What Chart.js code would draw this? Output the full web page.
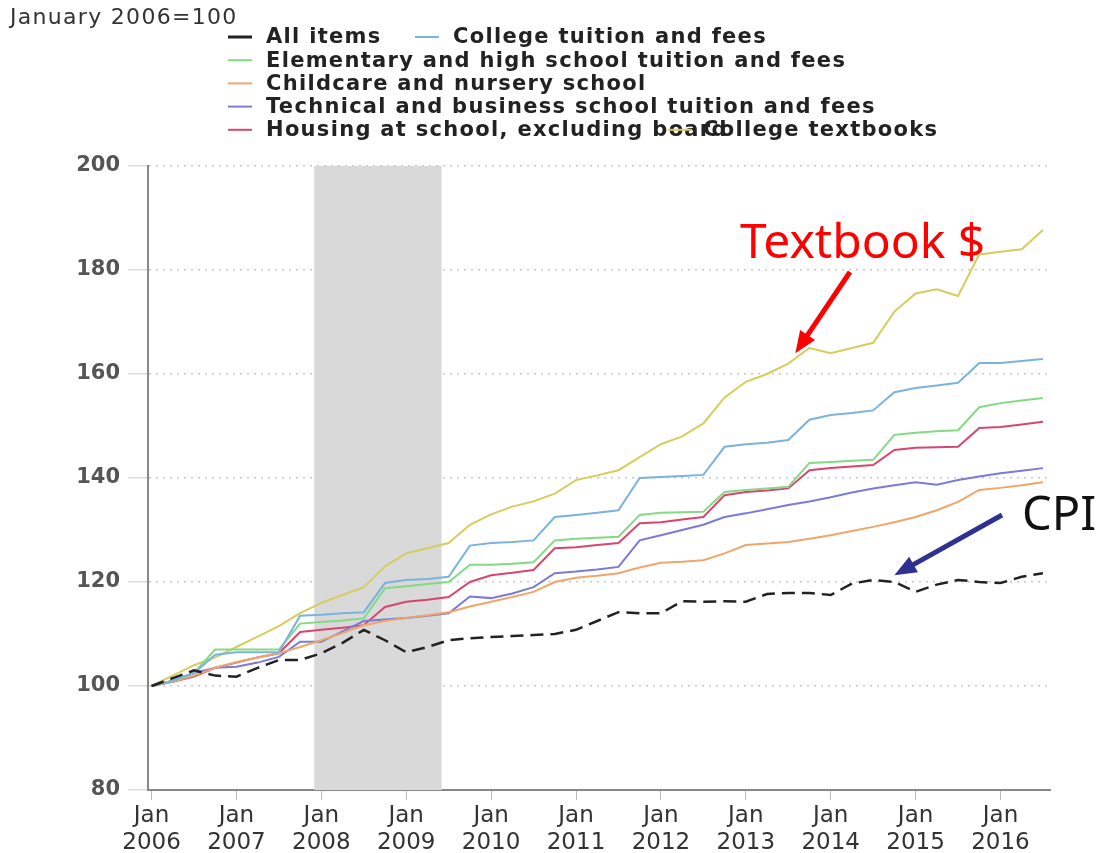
<!DOCTYPE html>
<html>
<head>
<meta charset="utf-8">
<script src="https://cdn.jsdelivr.net/npm/chart.js@4/dist/chart.umd.min.js"></script>
<style>
  html, body { margin: 0; padding: 0; background: #fff; }
  #wrap { width: 1101px; height: 853px; position: relative; }
</style>
</head>
<body>
<div id="wrap"><canvas id="cpiChart" width="1101" height="853"></canvas></div>
<script>
// months since Jan 2006 (quarterly readings)
const months = [0, 3, 6, 9, 12, 15, 18, 21, 24, 27, 30, 33, 36, 39, 42, 45, 48, 51, 54, 57,
  60, 63, 66, 69, 72, 75, 78, 81, 84, 87, 90, 93, 96, 99, 102, 105, 108, 111, 114, 117,
  120, 123, 126];
const yearTicks = [0, 12, 24, 36, 48, 60, 72, 84, 96, 108, 120];
const yearLabels = ["2006", "2007", "2008", "2009", "2010", "2011", "2012", "2013", "2014", "2015", "2016"];
const yTicks = [80, 100, 120, 140, 160, 180, 200];

const allItems = [100, 101.5, 103, 102, 101.8, 103.5, 105, 105, 106.3, 108.3, 110.8, 108.8,
  106.5, 107.5, 108.8, 109.2, 109.4, 109.6, 109.8, 110, 110.8, 112.5, 114.2, 114,
  114, 116.3, 116.2, 116.3, 116.2, 117.7, 117.9, 117.9, 117.5, 119.7, 120.4, 120,
  118.1, 119.5, 120.4, 120, 119.8, 121, 121.7];
const collegeTuition = [100, 101, 102.5, 106, 106.5, 106.5, 106.5, 113.5, 113.7, 114, 114.2, 119.8,
  120.4, 120.6, 121, 127, 127.5, 127.7, 128, 132.5, 132.9, 133.3, 133.8, 140,
  140.2, 140.4, 140.6, 146, 146.5, 146.8, 147.3, 151.2, 152.1, 152.5, 153, 156.5,
  157.3, 157.8, 158.3, 162.1, 162.1, 162.5, 162.9];
const elementaryHigh = [100, 101, 102.5, 107, 107, 107, 107, 112, 112.3, 112.6, 113, 118.8,
  119.2, 119.6, 120, 123.3, 123.3, 123.5, 123.8, 128, 128.3, 128.5, 128.7, 132.9,
  133.3, 133.4, 133.5, 137.3, 137.7, 138, 138.3, 142.9, 143.1, 143.3, 143.5, 148.3,
  148.7, 149, 149.2, 153.6, 154.4, 154.9, 155.4];
const childcare = [100, 100.8, 102, 103.5, 104.6, 105.5, 106.3, 107.5, 108.8, 110.2, 111.7, 112.5,
  113.1, 113.6, 114.2, 115.3, 116.2, 117.1, 118.1, 120, 120.8, 121.2, 121.7, 122.8,
  123.7, 123.9, 124.2, 125.5, 127.1, 127.4, 127.7, 128.3, 129, 129.8, 130.6, 131.5,
  132.5, 133.8, 135.4, 137.7, 138.1, 138.6, 139.2];
const technical = [100, 101, 102.5, 103.5, 103.7, 104.5, 105.6, 108.5, 108.5, 110.5, 112.5, 112.8,
  113.1, 113.5, 114, 117.2, 116.9, 117.8, 119, 121.7, 122, 122.4, 122.9, 128,
  129, 130, 131, 132.5, 133.2, 134, 134.8, 135.5, 136.3, 137.2, 138, 138.6,
  139.2, 138.7, 139.6, 140.3, 140.9, 141.4, 141.9];
const housing = [100, 100.8, 101.8, 103.5, 104.5, 105.5, 106.3, 110.4, 110.8, 111.2, 111.7, 115.2,
  116.2, 116.6, 117.1, 120, 121.3, 121.8, 122.3, 126.5, 126.7, 127.1, 127.5, 131.3,
  131.5, 132, 132.5, 136.7, 137.3, 137.6, 138, 141.5, 141.9, 142.2, 142.5, 145.4,
  145.8, 145.9, 146, 149.6, 149.8, 150.3, 150.8];
const textbooks = [100, 102, 104, 105.5, 107.5, 109.5, 111.5, 114, 116, 117.5, 119, 123,
  125.5, 126.5, 127.5, 131, 133, 134.5, 135.5, 137, 139.6, 140.5, 141.5, 144,
  146.5, 148, 150.5, 155.5, 158.5, 160, 162, 165, 164, 165, 166, 172,
  175.5, 176.3, 175, 183, 183.5, 184, 187.7];

// recession (Dec 2007 - Jun 2009), in months since Jan 2006
const recession = [23, 41];

const series = [
  { label: "All items", values: allItems, color: "#222222", dash: [13, 7], width: 2.5 },
  { label: "College tuition and fees", values: collegeTuition, color: "#7ab3de", width: 2 },
  { label: "Elementary and high school tuition and fees", values: elementaryHigh, color: "#84d984", width: 2 },
  { label: "Childcare and nursery school", values: childcare, color: "#eea66a", width: 2 },
  { label: "Technical and business school tuition and fees", values: technical, color: "#7a7ad8", width: 2 },
  { label: "Housing at school, excluding board", values: housing, color: "#d8466e", width: 2 },
  { label: "College textbooks", values: textbooks, color: "#d6cd5c", width: 2 }
];

const decorations = {
  id: "decorations",
  beforeDatasetsDraw(chart) {
    const { ctx, chartArea, scales } = chart;
    const x0 = scales.x.getPixelForValue(recession[0]);
    const x1 = scales.x.getPixelForValue(recession[1]);
    ctx.save();
    ctx.fillStyle = "#d9d9d9";
    ctx.fillRect(x0, chartArea.top, x1 - x0, chartArea.bottom - chartArea.top);
    ctx.restore();
  },
  afterDraw(chart) {
    const { ctx, scales } = chart;
    ctx.save();
    // unit note
    ctx.fillStyle = "#333";
    ctx.font = "22px 'DejaVu Sans'";
    ctx.letterSpacing = "1.3px";
    ctx.textBaseline = "middle";
    ctx.fillText("January 2006=100", 10, 18);

    // legend
    const rows = [
      [[0, 228, 266], [1, 415, 453]],
      [[2, 228, 266]],
      [[3, 228, 266]],
      [[4, 228, 266]],
      [[5, 228, 266], [6, 668, 703]]
    ];
    ctx.font = "bold 21px 'DejaVu Sans'";
    ctx.letterSpacing = "1.3px";
    rows.forEach((row, r) => {
      const y = 37 + r * 23.2;
      row.forEach(([i, lx, tx]) => {
        const s = series[i];
        ctx.strokeStyle = s.color;
        ctx.lineWidth = i === 0 ? 3 : 2;
        ctx.beginPath();
        ctx.moveTo(lx, y);
        ctx.lineTo(lx + 24, y);
        ctx.stroke();
        ctx.fillStyle = "#222";
        ctx.fillText(s.label, tx, y + 1);
      });
    });
    ctx.letterSpacing = "0px";

    // annotations
    const arrow = (fx, fy, tx, ty, color) => {
      const ang = Math.atan2(ty - fy, tx - fx);
      const head = 22;
      ctx.strokeStyle = color;
      ctx.fillStyle = color;
      ctx.lineWidth = 5;
      ctx.beginPath();
      ctx.moveTo(fx, fy);
      ctx.lineTo(tx - Math.cos(ang) * head * 0.8, ty - Math.sin(ang) * head * 0.8);
      ctx.stroke();
      ctx.beginPath();
      ctx.moveTo(tx, ty);
      ctx.lineTo(tx - head * Math.cos(ang) + 9 * Math.sin(ang), ty - head * Math.sin(ang) - 9 * Math.cos(ang));
      ctx.lineTo(tx - head * Math.cos(ang) - 9 * Math.sin(ang), ty - head * Math.sin(ang) + 9 * Math.cos(ang));
      ctx.closePath();
      ctx.fill();
    };
    ctx.textBaseline = "alphabetic";
    ctx.font = "48px 'Noto Sans'";
    ctx.fillStyle = "#ff0000";
    ctx.fillText("Textbook $", 740, 258);
    arrow(850, 272, scales.x.getPixelForValue(91), scales.y.getPixelForValue(164), "#ff0000");
    ctx.font = "47px 'Noto Sans'";
    ctx.fillStyle = "#111";
    ctx.fillText("CPI", 1022, 530);
    arrow(1002, 515, scales.x.getPixelForValue(105), scales.y.getPixelForValue(121.3), "#2e3192");
    ctx.restore();
  }
};

new Chart(document.getElementById("cpiChart"), {
  type: "line",
  data: {
    datasets: series.map((s) => ({
      label: s.label,
      data: months.map((m, i) => ({ x: m, y: s.values[i] })),
      borderColor: s.color,
      borderWidth: s.width,
      borderDash: s.dash || [],
      pointRadius: 0,
      fill: false,
      tension: 0
    }))
  },
  options: {
    responsive: false,
    animation: false,
    layout: { padding: { top: 166, right: 51, left: 0, bottom: 0 } },
    plugins: { legend: { display: false }, tooltip: { enabled: false } },
    scales: {
      x: {
        type: "linear",
        min: -0.5,
        max: 127,
        afterBuildTicks: (scale) => { scale.ticks = yearTicks.map((v) => ({ value: v })); },
        afterFit: (scale) => { scale.height = 63; },
        ticks: {
          autoSkip: false,
          maxRotation: 0,
          padding: 2,
          color: "#333",
          font: { family: "DejaVu Sans", size: 23 },
          callback: (v) => ["Jan", yearLabels[yearTicks.indexOf(v)]]
        },
        grid: { drawOnChartArea: false, tickLength: 10, color: "#bbb", tickColor: "#bbb", lineWidth: 1 },
        border: { color: "#888", width: 2 }
      },
      y: {
        min: 80,
        max: 200,
        afterBuildTicks: (scale) => { scale.ticks = yTicks.map((v) => ({ value: v })); },
        afterFit: (scale) => { scale.width = 148; },
        ticks: {
          padding: 8,
          color: "#555",
          font: { family: "DejaVu Sans", size: 21, weight: "bold" }
        },
        grid: { color: "#c8c8c8", lineWidth: 1.5, tickLength: 20, tickColor: "#ddd", tickBorderDash: [] },
        border: { color: "#888", width: 2, dash: [2, 5] }
      }
    }
  },
  plugins: [decorations]
});
</script>
</body>
</html>
